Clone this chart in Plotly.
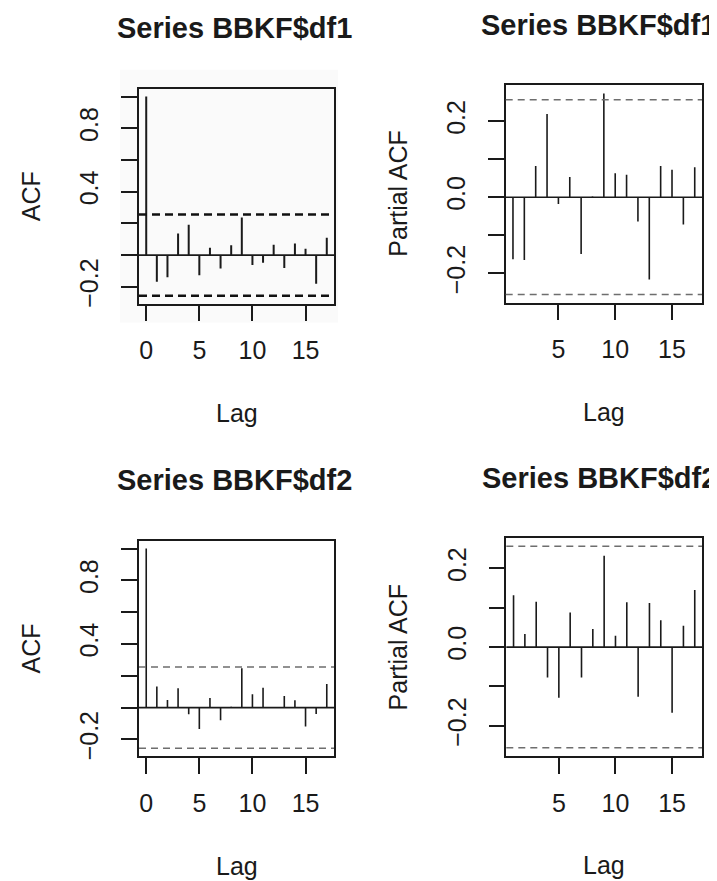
import plotly.graph_objects as go

# ---------------- data ----------------
lags_acf = list(range(0, 18))
lags_pacf = list(range(1, 18))

acf_df1 = [1.0, -0.168, -0.139, 0.137, 0.191, -0.127, 0.046, -0.085, 0.062,
           0.237, -0.062, -0.048, 0.066, -0.081, 0.073, 0.040, -0.181, 0.110]
pacf_df1 = [-0.163, -0.165, 0.082, 0.219, -0.018, 0.053, -0.149, 0.002, 0.273,
            0.063, 0.059, -0.064, -0.216, 0.082, 0.072, -0.072, 0.079]
acf_df2 = [1.0, 0.132, 0.048, 0.121, -0.042, -0.134, 0.061, -0.079, 0.005,
           0.247, 0.084, 0.125, 0.003, 0.073, 0.046, -0.119, -0.040, 0.148]
pacf_df2 = [0.132, 0.033, 0.115, -0.077, -0.129, 0.088, -0.077, 0.046, 0.232,
            0.029, 0.114, -0.126, 0.112, 0.068, -0.167, 0.054, 0.145]

ci_df1 = 0.256
ci_df2 = 0.256

titles = ["Series BBKF$df1", "Series BBKF$df1", "Series BBKF$df2", "Series BBKF$df2"]
ylabels = ["ACF", "Partial ACF", "ACF", "Partial ACF"]
xlabel = "Lag"

acf_yticks = [-0.2, 0.0, 0.2, 0.4, 0.6, 0.8, 1.0]
acf_yticktext = ["\u22120.2", "", "", "0.4", "", "0.8", ""]
pacf_yticks = [-0.2, -0.1, 0.0, 0.1, 0.2]
pacf_yticktext = ["\u22120.2", "", "0.0", "", "0.2"]
acf_xticks = [0, 5, 10, 15]
pacf_xticks = [5, 10, 15]

# ---------------- layout helpers ----------------
W, H = 717, 881
FONT = "Liberation Sans, Arial, Helvetica, sans-serif"
INK = "#1a1a1a"

# panel boxes in pixels: (left, right, top, bottom)
boxes = [(131, 326, 81, 297), (497.7, 694, 77.7, 296),
         (131, 326, 535, 751.7), (498.3, 694, 532.7, 751.3)]
title_dx = [-2, -5, -2, -5]

panels = [
    (lags_acf, acf_df1, ci_df1, acf_yticks, acf_yticktext, acf_xticks, True),
    (lags_pacf, pacf_df1, ci_df1, pacf_yticks, pacf_yticktext, pacf_xticks, False),
    (lags_acf, acf_df2, ci_df2, acf_yticks, acf_yticktext, acf_xticks, False),
    (lags_pacf, pacf_df2, ci_df2, pacf_yticks, pacf_yticktext, pacf_xticks, False),
]


def pr(lo, hi):
    pad = 0.04 * (hi - lo)
    return [lo - pad, hi + pad]


fig = go.Figure()
shapes = []
annotations = []

for i, (lags, vals, ci, yt, ytt, xt, dark) in enumerate(panels):
    n = i + 1
    xa = "x" if n == 1 else f"x{n}"
    ya = "y" if n == 1 else f"y{n}"
    L, R, T, B = boxes[i]

    xs, ys = [], []
    for lg, v in zip(lags, vals):
        xs += [lg, lg, None]
        ys += [0, v, None]
    fig.add_trace(go.Scatter(x=xs, y=ys, mode="lines", xaxis=xa, yaxis=ya,
                             line=dict(color=INK, width=2 if dark else 1.6),
                             hoverinfo="skip", showlegend=False))

    xr = pr(min(lags), max(lags))
    yr = pr(min(min(vals), -ci), max(max(vals), ci))

    axis_common = dict(showgrid=False, zeroline=False, showline=True, mirror=True,
                       linecolor=INK, linewidth=1.6, ticks="outside", ticklen=16,
                       tickwidth=1.6, tickcolor=INK,
                       tickfont=dict(family=FONT, size=25, color=INK))
    fig.update_layout({
        ("xaxis" if n == 1 else f"xaxis{n}"): dict(
            domain=[L / W, R / W], anchor=ya, range=xr, tickvals=xt,
            ticklabelstandoff=8, **axis_common),
        ("yaxis" if n == 1 else f"yaxis{n}"): dict(
            domain=[1 - B / H, 1 - T / H], anchor=xa, range=yr, tickvals=yt,
            ticktext=ytt, tickangle=-90, ticklabelstandoff=13, **axis_common),
    })

    xref_d = f"{xa} domain"
    # zero line
    shapes.append(dict(type="line", xref=xref_d, yref=ya, x0=0, x1=1, y0=0, y1=0,
                       line=dict(color=INK, width=1.6)))
    # confidence bounds
    for c in (ci, -ci):
        shapes.append(dict(type="line", xref=xref_d, yref=ya, x0=0, x1=1, y0=c, y1=c,
                           line=dict(color="#111111" if dark else "#6e6e6e",
                                     width=2.6 if dark else 1.5,
                                     dash="8px,5px" if dark else "7px,5px")))
    if dark:
        shapes.append(dict(type="rect", xref="paper", yref="paper",
                           x0=112 / W, x1=330 / W, y0=1 - 316 / H, y1=1 - 62 / H,
                           fillcolor="#fafafa", line=dict(width=0), layer="below"))

    cx = (L + R) / 2
    cy = (T + B) / 2
    # title
    annotations.append(dict(text=f"<b>{titles[i]}</b>", xref="paper", yref="paper",
                            x=(cx + title_dx[i]) / W, y=1 - (T - 61) / H,
                            xanchor="center", yanchor="middle",
                            showarrow=False, font=dict(family=FONT, size=29, color=INK)))
    # x label
    annotations.append(dict(text=xlabel, xref="paper", yref="paper",
                            x=cx / W, y=1 - (B + 110) / H, xanchor="center", yanchor="middle",
                            showarrow=False, font=dict(family=FONT, size=25, color=INK)))
    # y label
    annotations.append(dict(text=ylabels[i], xref="paper", yref="paper",
                            x=(L - 108) / W, y=1 - cy / H, xanchor="center", yanchor="middle",
                            textangle=-90, showarrow=False,
                            font=dict(family=FONT, size=25, color=INK)))

fig.update_layout(width=W, height=H, margin=dict(l=0, r=0, t=0, b=0),
                  paper_bgcolor="white", plot_bgcolor="rgba(0,0,0,0)",
                  shapes=shapes, annotations=annotations, showlegend=False)

fig.write_html("out.html")
